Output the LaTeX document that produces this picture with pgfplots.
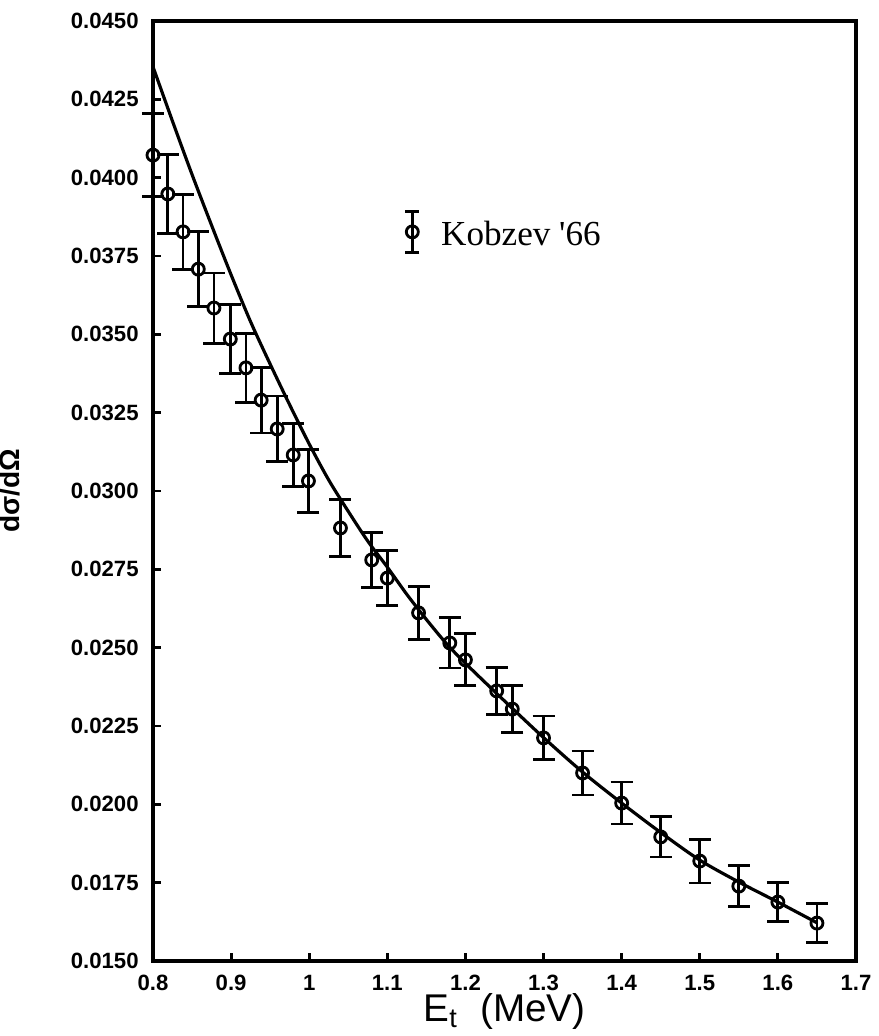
\documentclass[border=0pt]{standalone}
\usepackage{fontspec}
\setmainfont{Liberation Serif}
\setsansfont{Liberation Sans}
\usepackage{pgfplots}
\usepackage{pgfplotstable}
\pgfplotsset{compat=1.18}

\pgfplotstableread{
x y e
0.800 0.04072 0.00133
0.819 0.03948 0.00125
0.8385 0.03827 0.00120
0.858 0.03708 0.00120
0.878 0.03584 0.00112
0.899 0.03485 0.00110
0.919 0.03393 0.00110
0.9385 0.03290 0.00105
0.959 0.03198 0.00105
0.9795 0.03115 0.00100
0.999 0.03032 0.00100
1.040 0.02882 0.00090
1.080 0.02780 0.00088
1.100 0.02722 0.00087
1.140 0.02611 0.00085
1.180 0.02515 0.00080
1.200 0.02461 0.00083
1.240 0.02362 0.00075
1.260 0.02304 0.00075
1.300 0.02212 0.00070
1.350 0.02100 0.00070
1.400 0.02004 0.00067
1.450 0.01896 0.00064
1.500 0.01819 0.00070
1.550 0.01739 0.00065
1.600 0.01688 0.00062
1.650 0.01621 0.00062
}\kobzev

\pgfplotstableread{
x y
0.800 0.04354
0.825 0.04180
0.850 0.04010
0.875 0.03848
0.900 0.03690
0.925 0.03540
0.950 0.03405
0.975 0.03275
1.000 0.03150
1.025 0.03035
1.050 0.02935
1.075 0.02840
1.100 0.02757
1.125 0.02670
1.150 0.02590
1.175 0.02515
1.200 0.02450
1.250 0.02330
1.300 0.02213
1.350 0.02103
1.400 0.02004
1.450 0.01910
1.500 0.01822
1.550 0.01752
1.600 0.01688
1.650 0.01622
}\theory

\begin{document}
\begin{tikzpicture}
\begin{axis}[
  scale only axis,
  width=70.3mm, height=94mm,
  xmin=0.8, xmax=1.7,
  ymin=0.015, ymax=0.045,
  clip=false,
  axis line style={line width=1pt},
  tick pos=left,
  tick align=inside,
  major tick length=0.8mm,
  every tick/.style={line width=0.8pt, black},
  xtick={0.8,0.9,1.0,1.1,1.2,1.3,1.4,1.5,1.6,1.7},
  xticklabels={0.8,0.9,1,1.1,1.2,1.3,1.4,1.5,1.6,1.7},
  ytick={0.015,0.0175,0.02,0.0225,0.025,0.0275,0.03,0.0325,0.035,0.0375,0.04,0.0425,0.045},
  yticklabels={0.0150,0.0175,0.0200,0.0225,0.0250,0.0275,0.0300,0.0325,0.0350,0.0375,0.0400,0.0425,0.0450},
  ticklabel style={font=\sffamily\bfseries\fontsize{6.3}{7}\selectfont},
  yticklabel style={xshift=-0.2mm},
  xticklabel style={yshift=-0.2mm},
  xlabel={E$_{\mathsf{t}}$\ \ (MeV)},
  xlabel style={font=\sffamily\fontsize{11}{12}\selectfont, yshift=2.2mm},
  ylabel={dσ/dΩ},
  ylabel style={at={(axis description cs:-0.172,0.5)}, anchor=south, font=\sffamily\bfseries\fontsize{8}{9}\selectfont},
]
\addplot[black, line width=0.9pt, smooth, tension=0.5] table[x=x,y=y] {\theory};
\addplot[black, only marks, mark=o, mark size=0.6mm, mark options={line width=0.8pt},
  error bars/.cd, y dir=both, y explicit,
  error bar style={line width=0.8pt, black},
  error mark options={rotate=90, mark size=1.1mm, line width=0.8pt, black}]
  table[x=x, y=y, y error=e] {\kobzev};
\addplot[black, only marks, mark=o, mark size=0.6mm, mark options={line width=0.8pt},
  error bars/.cd, y dir=both, y explicit,
  error bar style={line width=0.8pt, black},
  error mark options={rotate=90, mark size=0.7mm, line width=0.8pt, black}]
  coordinates {(1.132,0.03827) +- (0,0.00065)};
\node[anchor=base west, font=\fontsize{10}{12}\selectfont, inner sep=0pt] at (axis cs:1.168,0.03785) {Kobzev \textquotesingle66};
\end{axis}
\pgfresetboundingbox
\path ([xshift=-15.3mm,yshift=-7.5mm]current axis.south west) rectangle ([xshift=2.3mm,yshift=2.1mm]current axis.north east);
\end{tikzpicture}
\end{document}
